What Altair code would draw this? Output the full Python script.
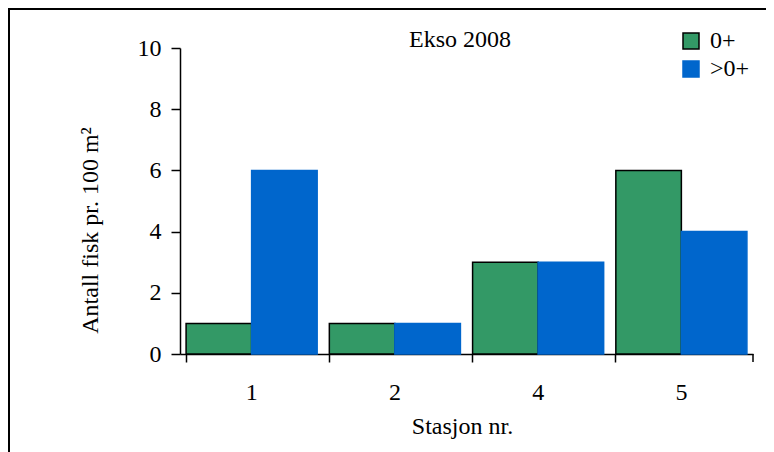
import altair as alt
import pandas as pd

stations = ["1", "2", "4", "5"]
young = [1, 1, 3, 6]      # 0+
older = [6, 1, 3, 4]      # >0+
groups = ["0+", ">0+"]
fill_colors = ["#339966", "#0066CC"]
stroke_colors = ["#000000", "#0066CC"]

rows = []
for s, a, b in zip(stations, young, older):
    rows.append({"stasjon": s, "alder": groups[0], "antall": a})
    rows.append({"stasjon": s, "alder": groups[1], "antall": b})
df = pd.DataFrame(rows)

W, H = 573, 306
FONT = "'Times New Roman', 'Liberation Serif', Times, serif"
FS = 24

axis_style = dict(labelFont=FONT, titleFont=FONT, labelFontSize=FS, titleFontSize=FS,
                  labelColor="black", titleColor="black", titleFontWeight="normal",
                  domainColor="black", tickColor="black", domainWidth=1.5, tickWidth=1.5)

legend_style = dict(title=None, orient="none", legendX=499, legendY=-19,
                    symbolType="square", symbolSize=256, symbolStrokeWidth=1.5,
                    labelOffset=7, rowPadding=4, padding=0,
                    labelFont=FONT, labelFontSize=FS, labelColor="black")

bars = alt.Chart(df).mark_bar(strokeWidth=1.5).encode(
    x=alt.X("stasjon:N", sort=stations,
            scale=alt.Scale(paddingInner=0.085, paddingOuter=0.0425),
            axis=alt.Axis(title="Stasjon nr.", labelAngle=0, bandPosition=0,
                          tickSize=8, labelPadding=18, titleX=282, titleY=79,
                          titleBaseline="alphabetic", titlePadding=0, **axis_style)),
    xOffset=alt.XOffset("alder:N", sort=groups,
                        scale=alt.Scale(paddingInner=0, paddingOuter=0)),
    y=alt.Y("antall:Q", scale=alt.Scale(domain=[0, 10]),
            axis=alt.Axis(title="Antall fisk pr. 100 m²", values=[0, 2, 4, 6, 8, 10],
                          tickSize=9, labelPadding=10, grid=False,
                          titleX=-90, titleY=182, titleBaseline="middle",
                          titleAngle=270, **axis_style)),
    color=alt.Color("alder:N", sort=groups,
                    scale=alt.Scale(domain=groups, range=fill_colors),
                    legend=alt.Legend(**legend_style)),
    stroke=alt.Stroke("alder:N", sort=groups,
                      scale=alt.Scale(domain=groups, range=stroke_colors),
                      legend=alt.Legend(**legend_style)),
)

title_txt = alt.Chart(pd.DataFrame({"t": ["Ekso 2008"]})).mark_text(
    font=FONT, fontSize=FS, baseline="alphabetic", align="center", color="black"
).encode(text="t:N", x=alt.value(280), y=alt.value(-1))

one = pd.DataFrame({"k": [0]})
end_tick = alt.Chart(one).mark_rule(color="black", strokeWidth=1.5).encode(
    x=alt.value(W), y=alt.value(H), y2=alt.value(H + 8))
top_border = alt.Chart(one).mark_rule(color="black", strokeWidth=2).encode(
    x=alt.value(-172), x2=alt.value(W + 30), y=alt.value(-39))
left_border = alt.Chart(one).mark_rule(color="black", strokeWidth=2).encode(
    x=alt.value(-171), y=alt.value(-40), y2=alt.value(H + 110))

chart = alt.layer(bars, title_txt, end_tick, top_border, left_border).properties(
    width=W, height=H,
    autosize=alt.AutoSizeParams(type="none"),
    padding={"left": 172, "top": 40, "right": 13, "bottom": 98},
).configure_view(stroke=None).configure_axis(
    labelFont=FONT, titleFont=FONT, labelFontSize=FS, titleFontSize=FS,
).configure_legend(
    labelFont=FONT, labelFontSize=FS, labelColor="black"
).configure_text(font=FONT)

chart.save("out.html", embed_options={"renderer": "svg", "actions": False})
